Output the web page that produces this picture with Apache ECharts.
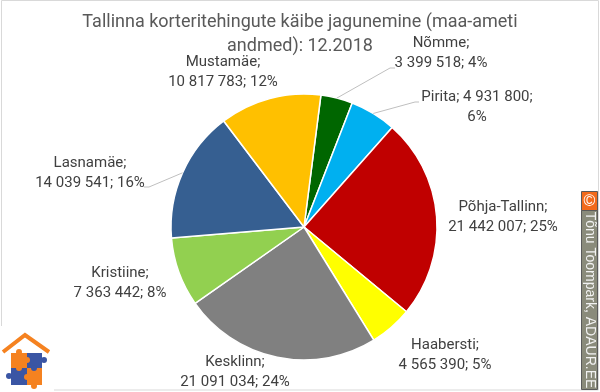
<!DOCTYPE html>
<html>
<head>
<meta charset="utf-8">
<script src="https://cdn.jsdelivr.net/npm/echarts@6/dist/echarts.min.js"></script>
<style>html,body{margin:0;padding:0;background:#fff}#c{width:600px;height:392px}</style>
</head>
<body>
<div id="c"></div>
<script>
// ---- data ----
const titleText = 'Tallinna korteritehingute käibe jagunemine (maa-ameti\nandmed): 12.2018';
const categories = ['Nõmme', 'Pirita', 'Põhja-Tallinn', 'Haabersti', 'Kesklinn', 'Kristiine', 'Lasnamäe', 'Mustamäe'];
const values = [3399518, 4931800, 21442007, 4565390, 21091034, 7363442, 14039541, 10817783];
const creditText = 'Tõnu Toompark, ADAUR.EE';

// ---- styling ----
const colors = ['#006600', '#00B0F0', '#C00000', '#FFFF00', '#808080', '#92D050', '#365F91', '#FFC000'];
const labelCenters = [[441, 53], [477, 107], [503, 217], [445, 355], [235, 372], [120, 283], [90, 173], [223, 72]];
// leader line elbow + end near label (style), null = no leader line
const leaders = [[[390, 68], [395, 68]], [[415, 102], [419, 102]], null, null, null, null, [[149, 187], [144, 187]], null];
const pieCenter = [304, 227], pieRadius = 133, pieStart = 82.7;

function fmt(n) { return String(n).replace(/\B(?=(\d{3})+(?!\d))/g, ' '); }

const total = values.reduce((a, b) => a + b, 0);
const leaderGraphics = [];
let cum = 0;
values.forEach((v, i) => {
  const midDeg = (90 - pieStart) + (cum + v / 2) / total * 360;
  cum += v;
  if (!leaders[i]) return;
  const a = midDeg * Math.PI / 180;
  const p0 = [pieCenter[0] + pieRadius * Math.sin(a), pieCenter[1] - pieRadius * Math.cos(a)];
  leaderGraphics.push({ type: 'polyline', z: 10, shape: { points: [p0, leaders[i][0], leaders[i][1]] }, style: { stroke: '#BFBFBF', lineWidth: 1, fill: 'none' } });
});

const chart = echarts.init(document.getElementById('c'));
const orange = '#F58220', blue = '#3A55A4';
chart.setOption({
  animation: false,
  title: {
    text: titleText, left: 'center', top: 5,
    textStyle: { fontFamily: 'Roboto', fontSize: 18, fontWeight: 'normal', color: '#595959', lineHeight: 24 }
  },
  series: [{
    type: 'pie',
    center: pieCenter,
    radius: pieRadius,
    startAngle: pieStart,
    clockwise: true,
    percentPrecision: 0,
    itemStyle: { borderColor: '#fff', borderWidth: 1.5 },
    label: {
      show: true, position: 'outside', overflow: 'none', width: 200,
      fontFamily: 'Roboto', fontSize: 15, lineHeight: 20, color: '#404040', align: 'center',
      formatter: function (p) {
        const v = fmt(p.value);
        return p.dataIndex === 1 ? p.name + '; ' + v + ';\n' + p.percent + '%' : p.name + ';\n' + v + '; ' + p.percent + '%';
      }
    },
    labelLine: { show: false },
    labelLayout: function (p) {
      const c = labelCenters[p.dataIndex];
      return { x: c[0], y: c[1], align: 'center', verticalAlign: 'middle' };
    },
    data: categories.map((n, i) => ({ name: n, value: values[i], itemStyle: { color: colors[i] } }))
  }],
  graphic: [
    { type: 'rect', shape: { x: 1.5, y: 0.5, width: 597, height: 389.5 }, style: { fill: 'none', stroke: '#D9D9D9', lineWidth: 1 }, z: -1 },
    // credit box
    { type: 'rect', shape: { x: 581.5, y: 210.5, width: 16, height: 179 }, style: { fill: '#8A8B7B', stroke: '#5A5A5A', lineWidth: 1 } },
    { type: 'rect', shape: { x: 581.5, y: 191.5, width: 16, height: 19 }, style: { fill: '#F26A1B', stroke: '#5A5A5A', lineWidth: 1 } },
    { type: 'text', x: 589.5, y: 201.5, style: { text: '©', font: '16px "Liberation Sans"', fill: '#fff', align: 'center', verticalAlign: 'middle' } },
    { type: 'text', x: 590, y: 300, rotation: -Math.PI / 2, style: { text: creditText, font: '14px "Liberation Sans"', fill: '#F2F2F2', align: 'center', verticalAlign: 'middle' } },
    // logo
    { type: 'rect', shape: { x: 0, y: 326, width: 54, height: 66 }, style: { fill: '#fff' } },
    { type: 'polyline', shape: { points: [[3, 352], [25, 335], [49, 352]] }, style: { stroke: orange, lineWidth: 4, fill: 'none' } },
    { type: 'rect', shape: { x: 11, y: 353, width: 16, height: 15 }, style: { fill: orange } },
    { type: 'rect', shape: { x: 27, y: 353, width: 15, height: 15 }, style: { fill: blue } },
    { type: 'rect', shape: { x: 11, y: 368, width: 16, height: 17 }, style: { fill: blue } },
    { type: 'rect', shape: { x: 27, y: 368, width: 15, height: 17 }, style: { fill: orange } },
    { type: 'circle', shape: { cx: 27, cy: 360, r: 3 }, style: { fill: orange } },
    { type: 'circle', shape: { cx: 34, cy: 368, r: 3 }, style: { fill: blue } },
    { type: 'circle', shape: { cx: 19, cy: 368, r: 3 }, style: { fill: orange } },
    { type: 'circle', shape: { cx: 27, cy: 377, r: 3 }, style: { fill: orange } },
    { type: 'circle', shape: { cx: 44, cy: 360, r: 3 }, style: { fill: blue } },
    { type: 'circle', shape: { cx: 9, cy: 376, r: 3 }, style: { fill: blue } },
    { type: 'circle', shape: { cx: 19, cy: 352, r: 3 }, style: { fill: orange } },
    { type: 'circle', shape: { cx: 34, cy: 386, r: 3 }, style: { fill: orange } }
  ].concat(leaderGraphics)
});
</script>
</body>
</html>
